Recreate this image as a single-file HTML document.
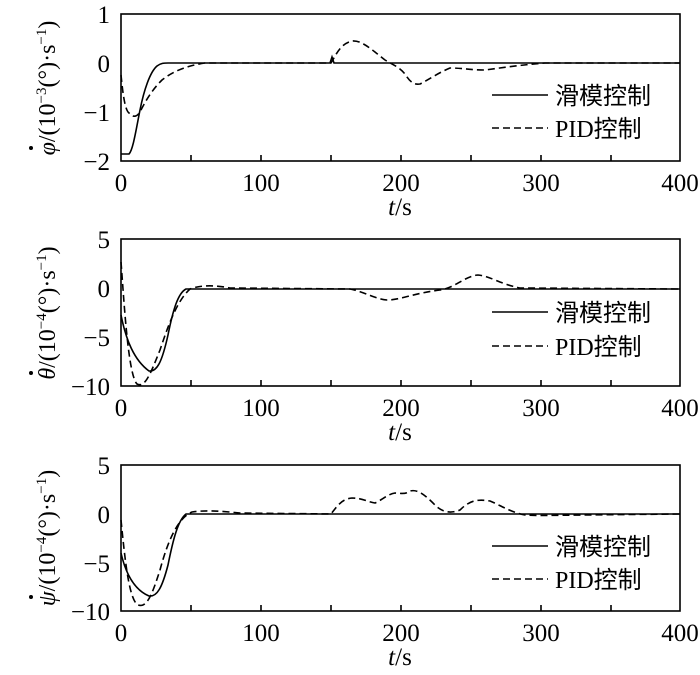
<!DOCTYPE html>
<html><head><meta charset="utf-8"><style>
body{margin:0;background:#fff}
svg{display:block}
text{font-family:"Liberation Serif","Noto Serif CJK SC",serif;font-size:25px;fill:#000}
.cn{font-family:"Liberation Serif","Noto Sans CJK SC",sans-serif;font-size:24px}
.yl{font-size:24px}
.s{fill:none;stroke:#000;stroke-width:1.6}
.d{fill:none;stroke:#000;stroke-width:1.6;stroke-dasharray:7,4}
.ax{fill:none;stroke:#000;stroke-width:1.6}
</style></head><body>
<svg width="700" height="675" viewBox="0 0 700 675">
<!-- Panel 1 -->
<g>
<rect class="ax" x="121" y="14" width="559" height="147"/>
<path class="ax" d="M191 161v-6M261 161v-6M331 161v-6M401 161v-6M471 161v-6M541 161v-6M611 161v-6"/>
<text x="110" y="23" text-anchor="end">1</text>
<text x="110" y="72" text-anchor="end">0</text>
<text x="110" y="121" text-anchor="end">−1</text>
<text x="110" y="170" text-anchor="end">−2</text>
<text x="121" y="191" text-anchor="middle">0</text><text x="261" y="191" text-anchor="middle">100</text><text x="401" y="191" text-anchor="middle">200</text><text x="541" y="191" text-anchor="middle">300</text><text x="680" y="191" text-anchor="middle">400</text>
<text x="400" y="215" text-anchor="middle"><tspan font-style="italic">t</tspan>/s</text>
<text class="yl" transform="translate(55,88) rotate(-90)" text-anchor="middle"><tspan font-style="italic">φ</tspan>/(10<tspan dy="-9" font-size="15">−3</tspan><tspan dy="9">(°)·s</tspan><tspan dy="-9" font-size="15">−1</tspan><tspan dy="9">)</tspan></text>
<circle cx="31" cy="148" r="2"/>
<path class="s" d="M121 154L129 154C133 150 136 130 140 110C144 90 150 72 157 66C161 63 164 63 168 63L330 63L332 57L334 63L680 63"/>
<path class="d" d="M121 75C123 95 125 110 129 113C133 117 136 118 140 112C146 100 152 90 162 80C172 72 185 66 205 63L331 63C336 55 340 44 352 41C362 40 372 50 385 60C393 65 398 66 405 74C410 82 414 85 420 84C428 80 438 73 450 68C462 68 470 70 485 70C500 68 520 65 545 63L680 63"/>
<line class="s" x1="492" y1="95" x2="548" y2="95"/>
<text class="cn" x="555" y="104">滑模控制</text>
<line class="d" x1="492" y1="128" x2="548" y2="128"/>
<text class="cn" x="555" y="137">PID控制</text>
</g>
<!-- Panel 2 -->
<g>
<rect class="ax" x="121" y="239" width="559" height="147"/>
<path class="ax" d="M191 386v-6M261 386v-6M331 386v-6M401 386v-6M471 386v-6M541 386v-6M611 386v-6"/>
<text x="110" y="248" text-anchor="end">5</text>
<text x="110" y="297" text-anchor="end">0</text>
<text x="110" y="346" text-anchor="end">−5</text>
<text x="110" y="395" text-anchor="end">−10</text>
<text x="121" y="416" text-anchor="middle">0</text><text x="261" y="416" text-anchor="middle">100</text><text x="401" y="416" text-anchor="middle">200</text><text x="541" y="416" text-anchor="middle">300</text><text x="680" y="416" text-anchor="middle">400</text>
<text x="400" y="440" text-anchor="middle"><tspan font-style="italic">t</tspan>/s</text>
<text class="yl" transform="translate(55,313) rotate(-90)" text-anchor="middle"><tspan font-style="italic">θ</tspan>/(10<tspan dy="-9" font-size="15">−4</tspan><tspan dy="9">(°)·s</tspan><tspan dy="-9" font-size="15">−1</tspan><tspan dy="9">)</tspan></text>
<circle cx="31" cy="373" r="2"/>
<path class="s" d="M121 315C126 340 134 360 149 371C157 372 162 362 168 335C173 310 178 293 186 289L680 289"/>
<path class="d" d="M121 262C124 300 128 375 137 384C145 388 150 375 160 350C170 320 178 300 190 289C200 285 215 285 230 288L350 289C365 292 375 299 387 300C400 300 415 293 440 290C455 288 465 276 478 275C490 276 500 284 520 288L680 289"/>
<line class="s" x1="492" y1="312" x2="548" y2="312"/>
<text class="cn" x="555" y="321">滑模控制</text>
<line class="d" x1="492" y1="346" x2="548" y2="346"/>
<text class="cn" x="555" y="355">PID控制</text>
</g>
<!-- Panel 3 -->
<g>
<rect class="ax" x="121" y="465" width="559" height="146"/>
<path class="ax" d="M191 611v-6M261 611v-6M331 611v-6M401 611v-6M471 611v-6M541 611v-6M611 611v-6"/>
<text x="110" y="474" text-anchor="end">5</text>
<text x="110" y="523" text-anchor="end">0</text>
<text x="110" y="572" text-anchor="end">−5</text>
<text x="110" y="620" text-anchor="end">−10</text>
<text x="121" y="641" text-anchor="middle">0</text><text x="261" y="641" text-anchor="middle">100</text><text x="401" y="641" text-anchor="middle">200</text><text x="541" y="641" text-anchor="middle">300</text><text x="680" y="641" text-anchor="middle">400</text>
<text x="400" y="665" text-anchor="middle"><tspan font-style="italic">t</tspan>/s</text>
<text class="yl" transform="translate(55,538) rotate(-90)" text-anchor="middle"><tspan font-style="italic">ψ</tspan>/(10<tspan dy="-9" font-size="15">−4</tspan><tspan dy="9">(°)·s</tspan><tspan dy="-9" font-size="15">−1</tspan><tspan dy="9">)</tspan></text>
<circle cx="31" cy="597" r="2"/>
<path class="s" d="M121 553C126 575 135 590 149 596C157 597 162 588 168 565C173 540 178 520 186 514L680 514"/>
<path class="d" d="M121 520C125 560 129 600 138 605C147 608 152 595 160 570C168 540 178 518 192 512C205 510 220 511 240 513L331 514C338 505 342 499 352 498C362 498 368 502 375 503C382 500 388 494 395 493C400 493 405 495 410 491C418 489 425 495 435 505C442 512 450 514 460 510C470 500 478 499 490 501C500 505 510 512 525 515C540 516 560 515 680 514"/>
<line class="s" x1="492" y1="546" x2="548" y2="546"/>
<text class="cn" x="555" y="555">滑模控制</text>
<line class="d" x1="492" y1="579" x2="548" y2="579"/>
<text class="cn" x="555" y="588">PID控制</text>
</g>
</svg>
</body></html>
